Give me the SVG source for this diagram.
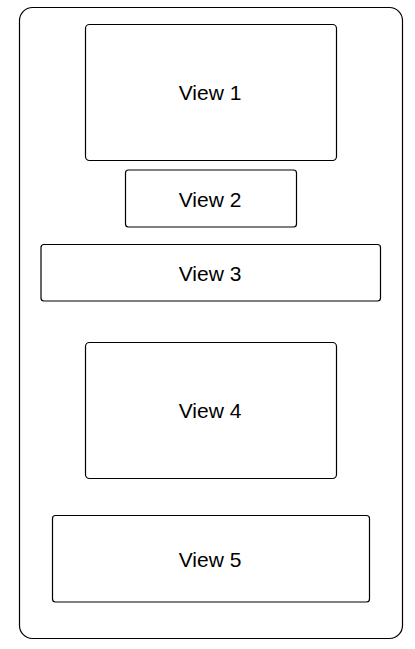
<svg xmlns="http://www.w3.org/2000/svg" width="415" height="649" viewBox="0 0 415 649">
<style>
rect{fill:#fff;stroke:#000;stroke-width:1.2}
text{font-family:"Liberation Sans",Arial,sans-serif;font-size:21px;text-anchor:middle;fill:#000}
</style>
<rect width="415" height="649" style="stroke:none"/>
<g id="container"><rect x="19.5" y="7.5" width="383" height="631" rx="13"/></g>
<g id="view1"><rect x="85.5" y="24.5" width="251" height="136" rx="4"/><text x="210" y="100">View 1</text></g>
<g id="view2"><rect x="125.5" y="170" width="171" height="57" rx="3"/><text x="210" y="206.5">View 2</text></g>
<g id="view3"><rect x="41" y="244.5" width="339.5" height="56.5" rx="3"/><text x="210" y="281">View 3</text></g>
<g id="view4"><rect x="85.5" y="342.5" width="251" height="136" rx="4"/><text x="210" y="418">View 4</text></g>
<g id="view5"><rect x="52.5" y="515.5" width="317" height="86.5" rx="3"/><text x="210" y="566.5">View 5</text></g>
<g id="connectors"/>
</svg>
